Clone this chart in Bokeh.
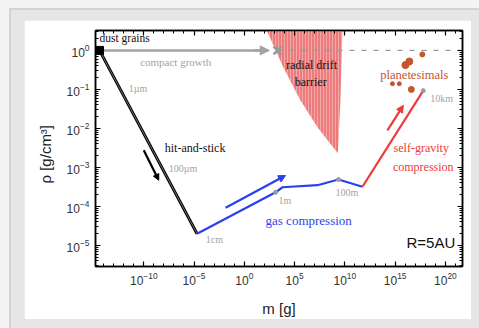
import math
from bokeh.plotting import figure
from bokeh.models import LogAxis, FixedTicker, Arrow, NormalHead, Label, Title
from bokeh.layouts import column
from bokeh.embed import file_html
from bokeh.resources import INLINE

# ---------------- data ----------------
hit_stick_mass = [4e-15, 2e-5]
hit_stick_rho = [1.0, 2e-5]
gas_mass = [2e-5, 1.3e3, 6.3e3, 1.9e7, 2.3e9, 5.6e11]
gas_rho = [2e-5, 2.3e-4, 3.1e-4, 3.5e-4, 4.9e-4, 3.2e-4]
selfgrav_mass = [5.6e11, 6.3e17]
selfgrav_rho = [3.2e-4, 9.3e-2]
compact_mass = [4e-15, 2.5e2]
compact_rho = [1.0, 1.0]
compact_stop_mass = [2e3]
compact_stop_rho = [1.0]
dashed_mass = [2e3, 1e22]
dashed_rho = [1.0, 1.0]
barrier_mass = [1.5e2, 8e3, 3.9e5, 1.9e7, 2.0e9, 3.6e9, 5.8e9]
barrier_rho = [3.5, 0.36, 0.052, 0.0107, 2.3e-3, 0.052, 3.5]
planetesimal_mass = [2.6e16, 1.05e16, 5.1e17, 5.4e14, 2.6e15, 4.1e16]
planetesimal_rho = [0.52, 0.42, 0.79, 0.14, 0.14, 0.10]
size_mark_mass = [1.3e3, 2.3e9, 6.3e17]
size_mark_rho = [2.3e-4, 4.9e-4, 9.3e-2]
start_mass = [4e-15]
start_rho = [1.0]
x_ticks = [1e-10, 1e-5, 1e0, 1e5, 1e10, 1e15, 1e20]
y_ticks = [1e-5, 1e-4, 1e-3, 1e-2, 1e-1, 1e0]

GREY = "#a3a3a3"
BLUE = "#2a3ff0"
RED = "#ee3a3a"
BROWN = "#c4552e"

p = figure(width=447, height=299, x_axis_type="log", y_axis_type="log",
           x_range=(10 ** -14.8, 10 ** 21.7), y_range=(10 ** -5.54, 10 ** 0.51),
           output_backend="svg", toolbar_location=None,
           min_border_left=71, min_border_right=9, min_border_top=10, min_border_bottom=53,
           border_fill_color="white", background_fill_color="white")
p.grid.visible = False
p.outline_line_color = "black"
p.outline_line_width = 1.5

xt = FixedTicker(ticks=x_ticks, minor_ticks=[10.0 ** e for e in range(-15, 23)])
yt = FixedTicker(ticks=y_ticks, minor_ticks=[k * 10.0 ** e for e in range(-6, 1) for k in range(2, 10)])

def style_axis(ax, labels=True):
    ax.major_tick_in = 5
    ax.major_tick_out = 0
    ax.minor_tick_in = 3
    ax.minor_tick_out = 0
    ax.axis_line_width = 1.5
    ax.major_tick_line_width = 1.2
    ax.major_label_text_font = "Liberation Sans"
    ax.major_label_text_color = "#333333"
    if labels:
        ax.major_label_text_font_size = "12px"
    else:
        ax.major_label_text_font_size = "1px"
        ax.major_label_text_alpha = 0
        ax.major_label_standoff = 0

p.xaxis[0].ticker = xt
p.yaxis[0].ticker = yt
style_axis(p.xaxis[0])
style_axis(p.yaxis[0])
p.xaxis[0].major_label_standoff = 5
p.yaxis[0].major_label_standoff = 6
p.xaxis[0].axis_label = "m [g]"
p.xaxis[0].axis_label_text_font = "Liberation Sans"
p.xaxis[0].axis_label_text_font_size = "15px"
p.xaxis[0].axis_label_text_font_style = "normal"
p.xaxis[0].axis_label_text_color = "#222222"
p.xaxis[0].axis_label_standoff = 12

top_ax = LogAxis(ticker=xt)
style_axis(top_ax, labels=False)
p.add_layout(top_ax, "above")
right_ax = LogAxis(ticker=yt)
style_axis(right_ax, labels=False)
p.add_layout(right_ax, "right")

# y-axis title placed in the left panel
p.add_layout(Title(text="ρ [g/cm³]", align="left", offset=83, standoff=19,
                   text_font="Liberation Sans", text_font_size="15px",
                   text_font_style="normal", text_color="#222222"), "left")

# radial drift barrier
p.patch(barrier_mass, barrier_rho, fill_color="#ee7b7b", line_color=None,
        hatch_pattern="vertical_line", hatch_color="white", hatch_alpha=0.35,
        hatch_scale=3, hatch_weight=1)

# compact growth arrow and dashed continuation
p.line(dashed_mass, dashed_rho, line_color="#9a9a9a", line_width=1.2, line_dash="5 7")
p.line(compact_mass, compact_rho, line_color=GREY, line_width=2.5)
p.add_layout(Arrow(end=NormalHead(size=9, fill_color=GREY, line_color=GREY),
                   x_start=1e1, y_start=1.0, x_end=3e2, y_end=1.0,
                   line_color=GREY, line_width=2.5))
p.scatter(compact_stop_mass, compact_stop_rho, marker="x", size=11,
          line_color="#999999", line_width=2.5)

# hit-and-stick
p.line(hit_stick_mass, hit_stick_rho, line_color="black", line_width=3)
p.line(hit_stick_mass, hit_stick_rho, line_color="#8a8a8a", line_width=0.8)
p.scatter(start_mass, start_rho, marker="square", size=8, color="black")

# gas compression
p.line(gas_mass, gas_rho, line_color=BLUE, line_width=2.2)
# self-gravity compression
p.line(selfgrav_mass, selfgrav_rho, line_color=RED, line_width=2.2)

p.scatter(size_mark_mass, size_mark_rho, marker="circle", size=4, color="#9a9a9a")

# planetesimals
p.scatter(planetesimal_mass, planetesimal_rho, marker="circle",
          size=[7, 7, 5, 4, 4, 6], color=BROWN)

# direction arrows
p.add_layout(Arrow(end=NormalHead(size=6, fill_color="black", line_color="black"),
                   x_start=1e-10, y_start=2.75e-3, x_end=3.1e-9, y_end=4.7e-4,
                   line_color="black", line_width=2.2))
p.add_layout(Arrow(end=NormalHead(size=7, fill_color=BLUE, line_color=BLUE),
                   x_start=1.38e-2, y_start=9.3e-5, x_end=1.26e4, y_end=6.2e-4,
                   line_color=BLUE, line_width=2.2))
p.add_layout(Arrow(end=NormalHead(size=7, fill_color=RED, line_color=RED),
                   x_start=1.7e14, y_start=8.9e-3, x_end=6.6e15, y_end=3.9e-2,
                   line_color=RED, line_width=2.2))

def lab(lx, ly, text, color, size="12px", font="Liberation Serif", align="left"):
    p.add_layout(Label(x=10 ** lx, y=10 ** ly, text=text, text_color=color,
                       text_font=font, text_font_size=size, text_align=align,
                       text_baseline="middle"))

lab(-14.4, 0.31, "dust grains", "#111111", size="11.5px")
lab(-6.82, -0.31, "compact growth", GREY, size="11px", align="center")
lab(-11.49, -0.97, "1µm", GREY, size="10px")
lab(-7.91, -2.51, "hit-and-stick", "#111111")
lab(-7.52, -3.03, "100µm", GREY, size="10px")
lab(-3.84, -4.85, "1cm", GREY, size="10px")
lab(3.41, -3.85, "1m", GREY, size="10px")
lab(9.07, -3.64, "100m", GREY, size="10px")
lab(2.11, -4.36, "gas compression", BLUE, size="13px")
lab(6.68, -0.38, "radial drift", "#111111", align="center")
lab(6.6, -0.82, "barrier", "#111111", align="center")
lab(16.91, -0.64, "planetesimals", BROWN, size="12.5px", align="center")
lab(18.5, -1.23, "10km", GREY, size="10px")
lab(17.6, -2.51, "self-gravity", RED, align="center")
lab(17.8, -3.0, "compression", RED, align="center")
lab(20.98, -4.92, "R=5AU", "#111111", size="15px", font="Liberation Sans", align="right")

inner = column(p, margin=(8, 0, 0, 9),
               styles={"background-color": "#e6e6e6",
                       "border-top": "2px solid #d3d3d3",
                       "border-left": "2px solid #d3d3d3",
                       "padding": "10px 8px 9px 13px"})
outer = column(inner, width=479, height=328, styles={"background-color": "#f4f4f4"})

open("out.html", "w").write(file_html(outer, INLINE))
